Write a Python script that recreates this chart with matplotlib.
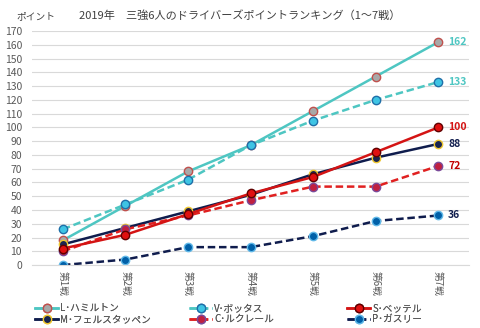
import matplotlib
matplotlib.use("Agg")
import matplotlib.pyplot as plt

plt.rcParams['font.family'] = ['Noto Sans CJK JP', 'DejaVu Sans']

races = ['第1戦', '第2戦', '第3戦', '第4戦', '第5戦', '第6戦', '第7戦']
hamilton = [18, 43, 68, 87, 112, 137, 162]
bottas = [26, 44, 62, 87, 105, 120, 133]
vettel = [12, 22, 37, 52, 64, 82, 100]
verstappen = [15, 27, 39, 51, 66, 78, 88]
leclerc = [10, 26, 36, 47, 57, 57, 72]
gasly = [0, 4, 13, 13, 21, 32, 36]

x = range(len(races))

fig = plt.figure(figsize=(4.8, 3.28), dpi=100)
ax = fig.add_axes([0.066, 0.192, 0.912, 0.713])

# (name, data, line colour, style, marker face, marker edge, label colour)
series = [
    ('L･ハミルトン', hamilton, '#4EC6C2', '-', '#A8A8A8', '#C0504D', '#4EC6C2'),
    ('M･フェルスタッペン', verstappen, '#0F1C4D', '-', '#1A2550', '#F0C830', '#0F1C4D'),
    ('V･ボッタス', bottas, '#4EC6C2', '--', '#3EC4E4', '#1F6FA8', '#4EC6C2'),
    ('C･ルクレール', leclerc, '#E02020', '--', '#C02040', '#7A4A9A', '#C00000'),
    ('S･ベッテル', vettel, '#D41414', '-', '#E01010', '#600000', '#D41414'),
    ('P･ガスリー', gasly, '#0F1C4D', '--', '#0060A8', '#60B8E8', '#0F1C4D'),
]

lines = []
for name, vals, lc, ls, mf, me, tc in series:
    ln, = ax.plot(x, vals, color=lc, linestyle=ls, linewidth=1.8, marker='o',
                  markersize=6, markerfacecolor=mf, markeredgecolor=me,
                  markeredgewidth=1.0, label=name,
                  dashes=(3, 1.5) if ls == '--' else (None, None))
    lines.append(ln)
    ax.text(6.16, vals[-1], str(vals[-1]), color=tc, fontsize=7.5,
            fontweight='bold', va='center', ha='left')

ax.set_xlim(-0.5, 6.5)
ax.set_ylim(0, 170)
ax.set_yticks(range(0, 171, 10))
ax.set_xticks(list(x))
ax.set_xticklabels(races, rotation=-90, fontsize=7, color='#595959')
ax.tick_params(axis='y', labelsize=7.5, colors='#595959', length=0, pad=7)
ax.tick_params(axis='x', length=0, pad=4)
ax.grid(axis='y', color='#D9D9D9', linewidth=0.8)
ax.set_axisbelow(True)
for s in ['top', 'right', 'left']:
    ax.spines[s].set_visible(False)
ax.spines['bottom'].set_color('#D9D9D9')

fig.text(0.5, 0.952, '2019年　三強6人のドライバーズポイントランキング（1～7戦）',
         ha='center', va='center', fontsize=8, color='#404040')
fig.text(0.035, 0.952, 'ポイント', ha='left', va='center', fontsize=7, color='#404040')

# three legend columns at fixed positions, like the Excel legend
for i, x0 in enumerate([32, 186, 344]):
    leg = fig.legend(handles=lines[2 * i:2 * i + 2], loc='lower left',
                     bbox_to_anchor=(x0 / 480, 0.003), frameon=False,
                     fontsize=7, handlelength=2.4, labelspacing=0.1,
                     handletextpad=0.2, borderaxespad=0, borderpad=0.3)
    for t in leg.get_texts():
        t.set_color('#595959')
    fig.add_artist(leg)

fig.savefig('out.png', dpi=100)
